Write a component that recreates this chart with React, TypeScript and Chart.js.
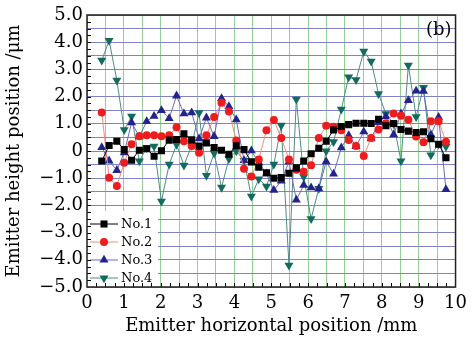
import React, { useEffect, useRef } from 'react';
import { Chart, registerables } from 'chart.js';

Chart.register(...registerables);

// Emitter horizontal positions (mm)
const xPositions = [0.40, 0.60, 0.81, 1.01, 1.21, 1.42, 1.62, 1.82, 2.02, 2.23, 2.43, 2.63, 2.84, 3.04, 3.24, 3.45, 3.65, 3.85, 4.05, 4.26, 4.46, 4.66, 4.87, 5.07, 5.27, 5.48, 5.68, 5.88, 6.08, 6.29, 6.49, 6.69, 6.90, 7.10, 7.30, 7.51, 7.71, 7.91, 8.11, 8.32, 8.52, 8.72, 8.93, 9.13, 9.33, 9.54, 9.74];

const no1 = [-0.37, 0.20, 0.36, 0.05, -0.34, 0.03, 0.08, -0.19, 0.01, 0.40, 0.42, 0.63, 0.41, 0.18, 0.30, 0.13, 0.03, -0.12, 0.19, 0.05, -0.40, -0.60, -0.80, -1.00, -0.98, -0.82, -0.62, -0.37, -0.10, 0.10, 0.36, 0.77, 0.90, 0.97, 1.02, 1.02, 1.01, 1.17, 0.93, 1.01, 0.79, 0.73, 0.68, 0.71, 0.45, 0.25, -0.25];
const no2 = [1.42, -0.98, -1.29, -0.43, 0.25, 0.54, 0.58, 0.58, 0.54, 0.58, 0.87, 0.36, 0.18, -0.06, 0.58, 1.25, 1.77, 1.45, 0.39, -0.65, -0.94, -0.31, 0.76, 1.14, 0.48, -0.31, -0.69, -0.76, -0.52, 0.48, 0.93, 0.89, 0.76, 0.40, 0.18, -0.18, 0.48, 0.79, 1.02, 1.38, 1.30, 1.15, 0.53, 0.32, 1.09, 1.09, 0.34];
const no3 = [0.13, -0.36, -0.71, -0.06, 1.04, 0.53, 1.09, 1.28, 1.49, 1.20, 2.03, 1.37, 1.41, 0.45, 1.22, 0.54, 1.93, 1.64, 1.15, -0.35, 0.01, -0.43, -0.83, -1.44, -1.10, -0.39, -1.80, -1.26, -1.35, -1.38, -0.39, -0.84, 0.12, 0.57, 0.17, 0.71, 0.45, 1.05, 1.27, 0.60, 1.37, 1.86, 2.21, 2.20, 0.60, 1.24, -1.41];
const no4 = [3.33, 4.06, 2.60, 0.78, 1.27, -0.37, 0.12, 0.17, -1.85, -0.49, 0.24, -0.53, 0.20, 1.40, -0.90, -0.08, -1.34, -0.29, 0.00, -0.35, -1.67, -1.03, -1.30, -0.49, 0.94, -4.20, 1.90, -0.95, -2.49, -1.38, 0.00, 0.34, 1.53, 2.72, 2.62, 3.66, 3.30, 2.10, 1.37, 1.00, -0.37, 3.15, 1.26, 2.33, -0.15, 0.25, 0.16];

const seriesLabels = ['No.1', 'No.2', 'No.3', 'No.4'];
const xTitle = 'Emitter horizontal position /mm';
const yTitle = 'Emitter height position /μm';
const panelLabel = '(b)';

const FONT = '"DejaVu Serif", serif';

type Style = { line: string; fill: string; shape: 'rect' | 'circle' | 'tri' | 'trid'; r: number };
const styles: Style[] = [
  { line: '#000000', fill: '#000000', shape: 'rect', r: 5 },
  { line: '#f08a80', fill: '#ee1c1c', shape: 'circle', r: 4 },
  { line: '#6a6ab8', fill: '#23238e', shape: 'tri', r: 5.2 },
  { line: '#4f8a84', fill: '#136b5e', shape: 'trid', r: 5.2 },
];

function drawMarker(ctx: CanvasRenderingContext2D, s: Style, x: number, y: number) {
  ctx.fillStyle = s.fill;
  ctx.beginPath();
  if (s.shape === 'rect') {
    const h = s.r * Math.SQRT1_2;
    ctx.rect(x - h, y - h, 2 * h, 2 * h);
  } else if (s.shape === 'circle') {
    ctx.arc(x, y, s.r, 0, Math.PI * 2);
  } else {
    const sign = s.shape === 'tri' ? 1 : -1;
    const r = s.r;
    ctx.moveTo(x, y - sign * r);
    ctx.lineTo(x + r * Math.sin(Math.PI / 3), y + sign * r / 2);
    ctx.lineTo(x - r * Math.sin(Math.PI / 3), y + sign * r / 2);
    ctx.closePath();
  }
  ctx.fill();
}

const decorPlugin = {
  id: 'decor',
  afterDatasetsDraw(chart: any) {
    const { ctx, chartArea: a, scales } = chart;
    const xs = scales.x;
    const ys = scales.y;
    ctx.save();
    // legend box (inside plot area, bottom-left)
    ctx.fillStyle = '#ffffff';
    ctx.fillRect(a.left, a.bottom - 76, 71, 76);
    ctx.font = '13px ' + FONT;
    ctx.textBaseline = 'middle';
    ctx.textAlign = 'left';
    seriesLabels.forEach((lab, i) => {
      const y = a.bottom - 63 + i * 18;
      const s = styles[i];
      ctx.strokeStyle = s.line;
      ctx.lineWidth = 1;
      ctx.beginPath();
      ctx.moveTo(a.left + 3, y);
      ctx.lineTo(a.left + 31, y);
      ctx.stroke();
      drawMarker(ctx, s, a.left + 17, y);
      ctx.fillStyle = '#000';
      ctx.fillText(lab, a.left + 34, y + 1);
    });
    // minor inward ticks
    ctx.strokeStyle = '#000';
    ctx.lineWidth = 1;
    ctx.beginPath();
    for (let i = 1; i < 40; i++) {
      const p = Math.round(xs.getPixelForValue(i * 0.25)) + 0.5;
      ctx.moveTo(p, a.bottom);
      ctx.lineTo(p, a.bottom - 4);
    }
    for (let i = 1; i < 40; i++) {
      const p = Math.round(ys.getPixelForValue(-5 + i * 0.25)) + 0.5;
      ctx.moveTo(a.left, p);
      ctx.lineTo(a.left + 4, p);
    }
    ctx.stroke();
    // frame
    ctx.lineWidth = 1.5;
    ctx.strokeStyle = '#222';
    ctx.strokeRect(a.left, a.top, a.right - a.left, a.bottom - a.top);
    // panel label
    ctx.fillStyle = '#000';
    ctx.font = '18px ' + FONT;
    ctx.textAlign = 'right';
    ctx.textBaseline = 'middle';
    ctx.fillText(panelLabel, a.right - 4, a.top + 15);
    ctx.restore();
  },
};

export default function App() {
  const ref = useRef<HTMLCanvasElement | null>(null);
  useEffect(() => {
    if (!ref.current) return;
    const all = [no1, no2, no3, no4];
    const chart = new Chart(ref.current, {
      type: 'line',
      data: {
        datasets: all.map((vals, i) => ({
          label: seriesLabels[i],
          data: vals.map((v, k) => ({ x: xPositions[k], y: v })),
          borderColor: styles[i].line,
          borderWidth: 1,
          backgroundColor: styles[i].fill,
          pointBackgroundColor: styles[i].fill,
          pointBorderColor: styles[i].fill,
          pointBorderWidth: 0,
          pointStyle: styles[i].shape === 'rect' ? 'rect' : styles[i].shape === 'circle' ? 'circle' : 'triangle',
          pointRotation: styles[i].shape === 'trid' ? 180 : 0,
          pointRadius: styles[i].r,
          tension: 0,
          fill: false,
        })),
      },
      options: {
        responsive: false,
        animation: false,
        layout: { padding: { top: 15, right: 16, left: 0, bottom: 0 } },
        plugins: { legend: { display: false }, tooltip: { enabled: false } },
        scales: {
          x: {
            type: 'linear',
            min: 0,
            max: 10,
            afterFit: (s: any) => { s.height = 51; },
            grid: { color: '#94cf94', lineWidth: 1, drawTicks: false },
            border: { display: false },
            ticks: {
              stepSize: 0.5,
              autoSkip: false,
              maxRotation: 0,
              padding: 6,
              color: '#000',
              font: { family: FONT, size: 18 },
              callback: (v: any) => (Number.isInteger(v) ? String(v) : ''),
            },
            title: {
              display: true,
              text: xTitle,
              color: '#000',
              font: { family: FONT, size: 18 },
              padding: { top: 0, bottom: 1 },
            },
          },
          y: {
            type: 'linear',
            min: -5,
            max: 5,
            afterFit: (s: any) => { s.width = 87; },
            grid: { color: '#8282c6', lineWidth: 1, drawTicks: false },
            border: { display: false },
            ticks: {
              stepSize: 0.5,
              autoSkip: false,
              padding: 4,
              color: '#000',
              font: { family: FONT, size: 18 },
              callback: (v: any) => {
                if (!Number.isInteger(v)) return '';
                if (v === 0) return '0';
                return (v < 0 ? '\u2212' : '') + Math.abs(v).toFixed(1);
              },
            },
            title: {
              display: true,
              text: yTitle,
              color: '#000',
              font: { family: FONT, size: 18 },
              padding: { top: 4, bottom: 0 },
            },
          },
        },
      },
      plugins: [decorPlugin],
    });
    return () => chart.destroy();
  }, []);
  return (
    <div style={{ position: 'absolute', left: 0, top: 0, width: 473, height: 338, background: '#fff' }}>
      <canvas ref={ref} width={473} height={338} />
    </div>
  );
}
